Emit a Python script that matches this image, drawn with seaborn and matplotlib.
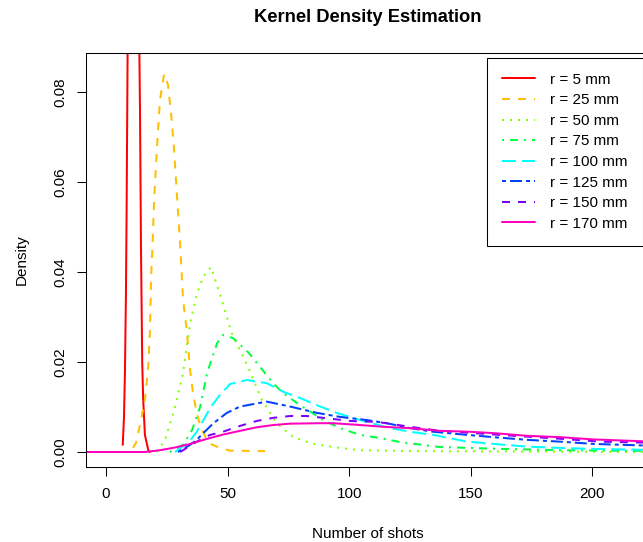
import numpy as np
import pandas as pd
import matplotlib
matplotlib.use("Agg")
import matplotlib.pyplot as plt
import seaborn as sns

# ---------------- data ----------------
labels = ["r = 5 mm", "r = 25 mm", "r = 50 mm", "r = 75 mm",
          "r = 100 mm", "r = 125 mm", "r = 150 mm", "r = 170 mm"]
colors = ["#FF0000", "#FFBF00", "#80FF00", "#00FF40",
          "#00FFFF", "#0040FF", "#8000FF", "#FF00BF"]

x_r5 = [6.9, 7.0, 7.4, 7.8, 8.2, 8.5, 8.9, 9.5, 10.5, 11.5, 12.5, 13.3, 13.7, 14.0,
        14.4, 14.9, 15.3, 16.0, 17.4, 18.1]
y_r5 = [0.0016, 0.003, 0.0078, 0.0178, 0.035, 0.055, 0.09, 0.14, 0.17, 0.17, 0.15, 0.11,
        0.09, 0.075, 0.045, 0.0198, 0.0116, 0.0038, 0.0004, 0.0]

x_r25 = [11.1, 12.3, 14.4, 16.0, 17.3, 18.1, 18.5, 19.2, 19.8, 20.9, 22.2, 23.9, 25.5,
         27.0, 28.0, 29.3, 30.5, 31.7, 33.2, 34.6, 35.8, 37.4, 38.7, 40.7, 43.0, 46.9,
         51.0, 65.4]
y_r25 = [0.0009, 0.0020, 0.0071, 0.0116, 0.0182, 0.0271, 0.0382, 0.0471, 0.056, 0.0671,
         0.0782, 0.084, 0.0816, 0.0738, 0.0671, 0.056, 0.046, 0.0338, 0.0271, 0.0182,
         0.0130, 0.0085, 0.0060, 0.0035, 0.0018, 0.0009, 0.0003, 0.0002]

x_r50 = [21.0, 24.3, 28.4, 31.7, 34.6, 37.3, 39.9, 43.2, 47.6, 51.7, 58.4, 64.1, 70.2,
         77.0, 85.2, 96.3, 104.5, 129.0, 230.0]
y_r50 = [0.0, 0.0027, 0.010, 0.0176, 0.0287, 0.0349, 0.0389, 0.0411, 0.0338, 0.0264,
         0.0189, 0.0116, 0.0064, 0.0033, 0.0018, 0.0009, 0.0004, 0.0002, 0.0]

x_r75 = [26.3, 31.7, 35.4, 38.7, 41.6, 45.7, 48.1, 52.3, 58.4, 63.4, 68.7, 72.8, 79.8,
         84.8, 89.3, 96.3, 104.5, 112.8, 121.0, 137.4, 162.1, 186.8, 230.0]
y_r75 = [0.0, 0.0016, 0.0049, 0.010, 0.0176, 0.0242, 0.026, 0.0253, 0.0222, 0.0189,
         0.0153, 0.0131, 0.0104, 0.0087, 0.0071, 0.0053, 0.0038, 0.0031, 0.0022, 0.0011,
         0.0007, 0.0004, 0.0002]

x_r100 = [28.4, 34.6, 37.3, 40.0, 42.8, 46.9, 51.0, 57.9, 66.1, 72.8, 79.8, 86.7, 94.9,
          104.5, 116.9, 125.1, 134.6, 148.6, 159.3, 173.3, 186.8, 200.4, 230.0]
y_r100 = [0.0, 0.0025, 0.0045, 0.007, 0.0098, 0.0127, 0.0151, 0.016, 0.0153, 0.0134,
          0.012, 0.0104, 0.0087, 0.0071, 0.0053, 0.0045, 0.0038, 0.0023, 0.0018, 0.0012,
          0.0009, 0.0007, 0.0004]

x_r125 = [29.6, 34.6, 37.3, 40.0, 44.2, 49.7, 55.1, 66.1, 75.7, 86.7, 96.3, 107.3, 115.5,
          125.1, 134.6, 148.6, 159.3, 173.3, 186.8, 200.4, 230.0]
y_r125 = [0.0, 0.0016, 0.0027, 0.0042, 0.0064, 0.0087, 0.0101, 0.0112, 0.0101, 0.0087,
          0.0078, 0.0071, 0.0064, 0.0053, 0.0045, 0.0038, 0.0033, 0.0027, 0.0023, 0.0018,
          0.0013]

x_r150 = [30.5, 37.3, 42.8, 48.1, 52.3, 55.1, 62.0, 68.8, 75.7, 82.6, 89.3, 100.4, 111.4,
          125.1, 134.6, 145.7, 162.1, 190.9, 203.3, 230.0]
y_r150 = [0.0, 0.0023, 0.0038, 0.0045, 0.0053, 0.0058, 0.0069, 0.0076, 0.008, 0.008,
          0.0076, 0.0069, 0.0067, 0.0056, 0.0049, 0.0044, 0.0038, 0.0028, 0.0023, 0.002]

x_r170 = [-15.0, 16.0, 22.2, 28.4, 34.6, 41.4, 48.3, 55.1, 62.0, 68.8, 75.7, 88.1, 93.4,
          104.5, 114.0, 125.1, 137.4, 149.8, 159.3, 173.3, 186.8, 200.4, 230.0]
y_r170 = [0.0, 0.0, 0.0004, 0.0010, 0.0018, 0.0029, 0.0039, 0.0047, 0.0055, 0.006, 0.0063,
          0.0064, 0.0064, 0.006, 0.0056, 0.0053, 0.0047, 0.0045, 0.0042, 0.0036, 0.0033,
          0.0028, 0.0022]

curve_x = [x_r5, x_r25, x_r50, x_r75, x_r100, x_r125, x_r150, x_r170]
curve_y = [y_r5, y_r25, y_r50, y_r75, y_r100, y_r125, y_r150, y_r170]

x_ticks = [0, 50, 100, 150, 200]
y_ticks = [0.00, 0.02, 0.04, 0.06, 0.08]

# ---------------- styles ----------------
dash_styles = ["", (4, 4), (1, 3), (1, 3, 4, 3), (7, 3), (2, 2, 6, 2), (4, 4), ""]

rows = []
for lab, xs, ys in zip(labels, curve_x, curve_y):
    for xv, yv in zip(xs, ys):
        rows.append((lab, xv, yv))
df = pd.DataFrame(rows, columns=["radius", "shots", "density"])

sns.set_style("white")
plt.rcParams["font.family"] = ["Liberation Sans", "DejaVu Sans"]
plt.rcParams["lines.linewidth"] = 1.44
plt.rcParams["text.color"] = "black"
plt.rcParams["axes.labelcolor"] = "black"
plt.rcParams["xtick.color"] = "black"
plt.rcParams["ytick.color"] = "black"

W, H = 643, 542
fig = plt.figure(figsize=(W / 100, H / 100), dpi=100)
ax = fig.add_axes([86 / W, 1 - 467 / H, (650 - 86) / W, (467 - 53) / H])

sns.lineplot(data=df, x="shots", y="density", hue="radius", style="radius",
             hue_order=labels, style_order=labels,
             palette=dict(zip(labels, colors)), dashes=dict(zip(labels, dash_styles)),
             estimator=None, sort=False, linewidth=1.44, ax=ax)

ax.set_xlim(-8.22, 223.7)
ax.set_ylim(-0.00333, 0.08867)
ax.set_xticks(x_ticks)
ax.set_xticklabels([str(t) for t in x_ticks])
ax.set_yticks(y_ticks)
ax.set_yticklabels([f"{t:.2f}" for t in y_ticks], rotation=90, va="center")

for s in ax.spines.values():
    s.set_color("black")
    s.set_linewidth(0.75)
    s.set_visible(True)

ax.tick_params(axis="both", direction="out", length=6.5, width=0.75,
               labelsize=11, bottom=True, left=True)
ax.tick_params(axis="x", pad=8)
ax.tick_params(axis="y", pad=7)

ax.set_xlabel("Number of shots", fontsize=11)
ax.set_ylabel("Density", fontsize=11)
ax.xaxis.label.set_va("center")
ax.yaxis.label.set_va("center")
ax.xaxis.set_label_coords(0.5, (467 - 534) / 414)
ax.yaxis.set_label_coords((22 - 86) / 564, 0.5)

ax.set_title("Kernel Density Estimation", fontsize=13.2, fontweight="bold",
             y=1 + (53 - 17) / 414, va="center", pad=0)

sns.move_legend(ax, "upper left", bbox_to_anchor=(487 / W, 1 - 57.5 / H),
                bbox_transform=fig.transFigure, title=None, frameon=True,
                fancybox=False, edgecolor="black", framealpha=1,
                borderaxespad=0, borderpad=1.0, labelspacing=0.43,
                handlelength=2.14, handletextpad=0.98, fontsize=11)
leg = ax.get_legend()
leg.get_frame().set_linewidth(0.75)
for h in leg.legend_handles:
    h.set_linewidth(1.44)

fig.savefig("out.png", dpi=100)
